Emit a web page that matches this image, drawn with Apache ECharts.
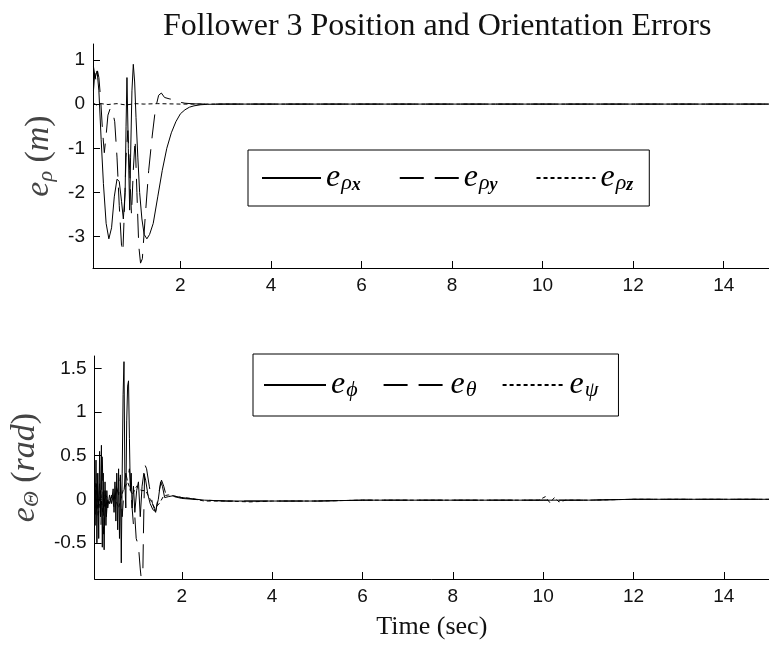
<!DOCTYPE html>
<html>
<head>
<meta charset="utf-8">
<script src="https://cdn.jsdelivr.net/npm/echarts@6/dist/echarts.min.js"></script>
<style>
  html, body { margin: 0; padding: 0; background: #fff; }
  #chart { width: 769px; height: 645px; }
</style>
</head>
<body>
<div id="chart"></div>
<script>
// ---- time ticks shared by both panels ----
const timeTicks = [2, 4, 6, 8, 10, 12, 14];
const posTicks = [-3, -2, -1, 0, 1];
const oriTicks = [-0.5, 0, 0.5, 1, 1.5];

// ---- position errors (m) ----
const tRhoX = [0.08, 0.12, 0.16, 0.2, 0.25, 0.3, 0.36, 0.42, 0.48, 0.54, 0.6, 0.65, 0.7, 0.74, 0.78, 0.8, 0.82, 0.85, 0.88, 0.9, 0.93, 0.96, 0.99, 1.02, 1.06, 1.1, 1.15, 1.2, 1.26, 1.32, 1.4, 1.5, 1.6, 1.7, 1.8, 1.9, 2.0, 2.1, 2.2, 2.3, 2.45, 2.6, 3, 4, 5, 6, 7, 8, 9, 10, 11, 12, 13, 14, 15];
const eRhoX = [0.85, 0.6, 0.75, 0.3, -0.8, -1.8, -2.7, -3.05, -2.8, -2.1, -1.7, -1.75, -2.2, -2.6, -2.0, -0.5, 0.6, -1.0, -2.4, -1.2, 0.3, 0.9, 0.5, -0.3, -1.2, -2.0, -2.6, -2.95, -3.05, -2.95, -2.7, -2.1, -1.5, -1.0, -0.65, -0.4, -0.22, -0.13, -0.07, -0.04, -0.015, -0.005, 0, 0, 0, 0, 0, 0, 0, 0, 0, 0, 0, 0, 0];

const tRhoY = [0.08, 0.11, 0.14, 0.17, 0.2, 0.24, 0.28, 0.32, 0.36, 0.4, 0.45, 0.5, 0.55, 0.6, 0.65, 0.7, 0.73, 0.76, 0.8, 0.84, 0.88, 0.92, 0.96, 1.0, 1.04, 1.08, 1.12, 1.16, 1.22, 1.3, 1.38, 1.45, 1.52, 1.58, 1.65, 1.75, 1.85, 1.95, 2.1, 2.3, 2.6, 3, 4, 5, 6, 7, 8, 9, 10, 11, 12, 13, 14, 15];
const eRhoY = [0.3, 0.7, 0.5, 0.75, 0.6, 0.1, -0.6, -1.1, -0.7, -0.25, -0.1, -0.15, -0.4, -1.2, -2.3, -3.2, -3.35, -2.5, -1.2, -0.6, -1.5, -2.5, -1.5, -0.8, -2.0, -3.2, -3.6, -3.5, -2.6, -1.5, -0.7, -0.1, 0.2, 0.25, 0.15, 0.12, 0.1, 0.05, 0.02, 0.005, 0, 0, 0, 0, 0, 0, 0, 0, 0, 0, 0, 0, 0, 0];

const tRhoZ = [0.08, 0.15, 0.25, 0.4, 0.6, 0.8, 1.0, 1.2, 1.5, 2.0, 3, 5, 8, 10, 12, 15];
const eRhoZ = [0.02, -0.02, 0.01, -0.01, 0.01, -0.02, 0.01, 0.0, 0.01, 0.0, 0, 0, 0, 0, 0, 0];

// ---- orientation errors (rad) ----
const tPhi = [0.06, 0.08, 0.1, 0.12, 0.14, 0.16, 0.18, 0.2, 0.22, 0.24, 0.26, 0.28, 0.3, 0.32, 0.34, 0.36, 0.4, 0.44, 0.48, 0.5, 0.52, 0.54, 0.56, 0.58, 0.6, 0.62, 0.64, 0.66, 0.68, 0.7, 0.72, 0.74, 0.76, 0.78, 0.8, 0.82, 0.84, 0.86, 0.88, 0.9, 0.93, 0.96, 1.0, 1.04, 1.08, 1.12, 1.16, 1.2, 1.25, 1.3, 1.36, 1.42, 1.48, 1.53, 1.57, 1.62, 1.7, 1.8, 2.0, 2.5, 3, 4, 5, 6, 7, 8, 9, 10, 11, 12, 13, 14, 15];
const ePhi = [0.25, -0.3, 0.45, -0.5, 0.3, -0.45, 0.55, -0.2, 0.62, -0.55, 0.3, -0.58, 0.2, -0.3, 0.1, -0.1, 0.05, -0.05, 0.12, -0.15, 0.2, -0.25, 0.3, -0.35, 0.35, -0.45, 0.28, -0.73, 0.3, 1.2, 1.58, 0.2, -0.1, 0.9, 1.3, 1.36, 0.7, 0.1, 0.3, -0.1, 0.15, -0.15, 0.1, 0.2, -0.2, 0.15, 0.3, 0.22, 0.05, -0.05, -0.12, -0.14, 0.0, 0.2, 0.15, 0.02, 0.03, 0.04, 0.02, -0.01, -0.02, -0.02, -0.02, -0.01, -0.01, -0.01, -0.01, -0.01, -0.01, 0, 0, 0, 0];

const tTheta = [0.06, 0.09, 0.12, 0.15, 0.18, 0.21, 0.24, 0.27, 0.3, 0.33, 0.36, 0.4, 0.45, 0.5, 0.55, 0.6, 0.64, 0.68, 0.72, 0.76, 0.8, 0.84, 0.87, 0.9, 0.93, 0.96, 0.99, 1.02, 1.05, 1.08, 1.11, 1.13, 1.15, 1.18, 1.22, 1.28, 1.35, 1.42, 1.5, 1.55, 1.6, 1.65, 1.75, 2.0, 2.5, 3, 4, 5, 6, 7, 8, 9, 10, 11, 12, 13, 14, 15];
const eTheta = [0.1, -0.2, 0.3, -0.1, 0.2, -0.3, 0.5, -0.4, 0.1, -0.2, 0.05, -0.05, 0.05, -0.1, 0.15, 0.05, 0.25, -0.2, 0.1, 0.3, 0.2, 0.35, 0.15, -0.1, -0.3, -0.2, -0.45, -0.5, -0.6, -0.8, -0.95, -1.1, -0.4, 0.4, 0.35, 0.15, -0.05, -0.15, 0.1, 0.22, 0.15, 0.05, 0.04, 0.01, -0.01, -0.02, -0.02, -0.02, -0.01, -0.01, -0.01, -0.01, -0.01, -0.01, 0, 0, 0, 0];

const tPsi = [0.06, 0.1, 0.15, 0.2, 0.25, 0.3, 0.4, 0.5, 0.6, 0.7, 0.8, 0.9, 1.0, 1.1, 1.2, 1.3, 1.4, 1.5, 1.6, 1.7, 1.8, 2.0, 2.2, 2.5, 3, 3.5, 4, 5, 6, 7, 8, 9, 9.9, 10.05, 10.15, 10.25, 10.35, 10.5, 11, 12, 13, 15];
const ePsi = [-0.1, 0.2, -0.2, 0.1, -0.15, 0.05, 0.0, 0.05, -0.1, 0.1, 0.2, 0.05, 0.15, 0.1, 0.1, 0.0, -0.1, -0.05, 0.04, 0.05, 0.04, 0.02, 0.01, -0.02, -0.02, -0.03, -0.02, -0.02, -0.01, -0.01, -0.01, -0.01, -0.01, 0.03, -0.04, 0.02, -0.03, -0.01, -0.01, 0, 0, 0];

const pairs = (t, v) => t.map((x, i) => [x, v[i]]);

const SERIF = '"Liberation Serif", "Times New Roman", serif';
const SANS = '"Liberation Sans", Arial, Helvetica, sans-serif';
const INK = '#000';

// math-style legend labels: italic e with subscripted symbols
const mathRich = {
  e: { fontFamily: SERIF, fontStyle: 'italic', fontSize: 32, lineHeight: 32, color: INK },
  s: { fontFamily: SERIF, fontStyle: 'italic', fontSize: 22, lineHeight: 20, verticalAlign: 'bottom', padding: [0, 0, 0, 1], color: INK },
  ss: { fontFamily: SERIF, fontStyle: 'italic', fontWeight: 'bold', fontSize: 18, lineHeight: 13, verticalAlign: 'bottom', color: INK }
};

const legendNames = {
  rx: '{e|e}{s|ρ}{ss|x}',
  ry: '{e|e}{s|ρ}{ss|y}',
  rz: '{e|e}{s|ρ}{ss|z}',
  phi: '{e|e}{s|ϕ}',
  theta: '{e|e}{s|θ}',
  psi: '{e|e}{s|ψ}'
};

function line(name, xi, data, type) {
  return {
    name: name, type: 'line', xAxisIndex: xi, yAxisIndex: xi,
    data: data, symbol: 'none', showSymbol: false, animation: false,
    lineStyle: { color: INK, width: 1, type: type },
    itemStyle: { color: INK },
    clip: true
  };
}

const DASH = [24, 11];
const DOT = [4, 3];

function xAxis(gi, showName) {
  return {
    type: 'value', gridIndex: gi, min: 0.07, max: 15,
    axisLine: { show: true, onZero: false, lineStyle: { color: INK, width: 1 } },
    axisTick: { show: true, inside: true, length: 7, customValues: timeTicks, lineStyle: { color: INK } },
    axisLabel: { customValues: timeTicks, color: '#111', fontFamily: SANS, fontSize: 19, margin: 8 },
    splitLine: { show: false },
    name: showName ? 'Time (sec)' : '',
    nameLocation: 'middle', nameGap: 35,
    nameTextStyle: { fontFamily: SERIF, fontSize: 26, color: '#111' }
  };
}

function yAxis(gi, min, max, ticks, nameRich, nameGap) {
  const c = '#444';
  return {
    type: 'value', gridIndex: gi, min: min, max: max,
    axisLine: { show: true, onZero: false, lineStyle: { color: INK, width: 1 } },
    axisTick: { show: true, inside: true, length: 7, customValues: ticks, lineStyle: { color: INK } },
    axisLabel: { customValues: ticks, color: '#111', fontFamily: SANS, fontSize: 19, margin: 8 },
    splitLine: { show: false },
    name: nameRich, nameLocation: 'middle', nameRotate: 90, nameGap: nameGap,
    nameTextStyle: {
      color: c,
      rich: {
        e: { fontFamily: SERIF, fontStyle: 'italic', fontSize: 34, lineHeight: 36, color: c },
        s: { fontFamily: SERIF, fontStyle: 'italic', fontSize: 22, lineHeight: 22, verticalAlign: 'bottom', color: c },
        p: { fontFamily: SERIF, fontSize: 34, lineHeight: 36, color: c },
        m: { fontFamily: SERIF, fontStyle: 'italic', fontSize: 34, lineHeight: 36, color: c }
      }
    }
  };
}

const legendBase = {
  orient: 'horizontal', itemHeight: 12, selectedMode: false,
  borderColor: INK, borderWidth: 1,
  itemStyle: { opacity: 0 },
  formatter: n => legendNames[n],
  textStyle: { rich: mathRich }
};

const chart = echarts.init(document.getElementById('chart'), null, { renderer: 'canvas' });
chart.setOption({
  backgroundColor: '#fff',
  animation: false,
  title: {
    text: 'Follower 3 Position and Orientation Errors',
    left: 158, top: 6,
    textStyle: { fontFamily: SERIF, fontWeight: 'normal', fontSize: 32, color: '#111' }
  },
  grid: [
    { left: 93, top: 44, width: 679, height: 224 },
    { left: 93, top: 356, width: 679, height: 223 }
  ],
  xAxis: [xAxis(0, false), xAxis(1, true)],
  yAxis: [
    yAxis(0, -3.71, 1.36, posTicks, '{e|e}{s|ρ}{p| (}{m|m}{p|)}', 29),
    yAxis(1, -0.915, 1.645, oriTicks, '{e|e}{s|Θ}{p| (}{m|rad}{p|)}', 46)
  ],
  legend: [
    Object.assign({}, legendBase, {
      data: ['rx', 'ry', 'rz'], left: 248, top: 150,
      padding: [12, 16, 12, 13], itemGap: 38, itemWidth: 59
    }),
    Object.assign({}, legendBase, {
      data: ['phi', 'theta', 'psi'], left: 253, top: 354,
      padding: [15, 20, 15, 10], itemGap: 25, itemWidth: 62
    })
  ],
  series: [
    line('rx', 0, pairs(tRhoX, eRhoX), 'solid'),
    line('ry', 0, pairs(tRhoY, eRhoY), DASH),
    line('rz', 0, pairs(tRhoZ, eRhoZ), DOT),
    line('phi', 1, pairs(tPhi, ePhi), 'solid'),
    line('theta', 1, pairs(tTheta, eTheta), DASH),
    line('psi', 1, pairs(tPsi, ePsi), DOT)
  ]
});
</script>
</body>
</html>
